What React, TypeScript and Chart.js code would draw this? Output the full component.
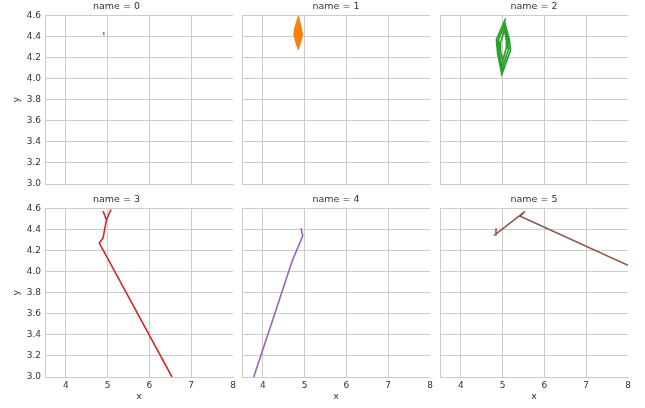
import React, { useEffect, useRef } from 'react';
import { Chart, registerables } from 'chart.js';

Chart.register(...registerables);

// Facet labels and colours
const facetNames = ['0', '1', '2', '3', '4', '5'];
const facetColors = ['#1f77b4', '#ff7f0e', '#2ca02c', '#d62728', '#9467bd', '#8c564b'];

// Shared axis ranges and tick values
const xRange = [3.5, 8];
const yRange = [3.0, 4.6];
const xTickValues = [4, 5, 6, 7, 8];
const yTickValues = [3.0, 3.2, 3.4, 3.6, 3.8, 4.0, 4.2, 4.4, 4.6];

// Trajectories, one per facet
const name0X = [4.9, 4.905, 4.9, 4.91];
const name0Y = [4.42, 4.44, 4.425, 4.435];

const name1X = [4.84, 4.9, 4.92, 4.86, 4.8, 4.77, 4.83, 4.89, 4.93, 4.88, 4.82, 4.76, 4.8, 4.85, 4.91, 4.89, 4.84, 4.78, 4.81, 4.86, 4.89, 4.85, 4.81, 4.84, 4.87, 4.83];
const name1Y = [4.55, 4.47, 4.4, 4.32, 4.38, 4.46, 4.54, 4.49, 4.42, 4.34, 4.33, 4.42, 4.5, 4.56, 4.46, 4.37, 4.31, 4.4, 4.48, 4.53, 4.44, 4.36, 4.42, 4.48, 4.42, 4.4];

const name2X = [5.07, 4.85, 4.88, 4.98, 5.19, 5.16, 5.06, 4.89, 4.91, 4.99, 5.15, 5.13, 5.05, 4.94, 4.95, 5.0, 5.1, 5.09, 5.05];
const name2Y = [4.57, 4.37, 4.24, 4.04, 4.27, 4.37, 4.52, 4.36, 4.25, 4.1, 4.29, 4.36, 4.47, 4.33, 4.26, 4.17, 4.31, 4.36, 4.45];

const name3X = [4.89, 4.97, 5.08, 4.97, 4.89, 4.8, 6.54];
const name3Y = [4.575, 4.49, 4.59, 4.49, 4.32, 4.27, 3.0];

const name4X = [3.78, 4.3, 4.7, 4.955, 4.91];
const name4Y = [3.0, 3.62, 4.1, 4.34, 4.41];

const name5X = [8.0, 5.42, 5.53, 4.82, 4.84];
const name5Y = [4.06, 4.525, 4.57, 4.35, 4.41];

const seriesX = [name0X, name1X, name2X, name3X, name4X, name5X];
const seriesY = [name0Y, name1Y, name2Y, name3Y, name4Y, name5Y];

const FONT = "'DejaVu Sans', sans-serif";
const TEXT = '#333333';
const GRID = '#cccccc';

// Facet grid geometry
const plotLefts = [45, 242, 440];
const plotTops = [16, 209];
const plotW = 188;
const plotH = 168;
const titleBox = 16;
const yAxisW = 45;
const xAxisH = 30;

function panelBox(i: number) {
  const col = i % 3;
  const row = Math.floor(i / 3);
  const leftPad = col === 0 ? 0 : 4;
  const yW = col === 0 ? yAxisW : 0;
  const xH = row === 1 ? xAxisH : 0;
  const bottomPad = row === 1 ? 0 : 2;
  const rightPad = 6;
  return {
    col,
    row,
    left: plotLefts[col] - yW - leftPad,
    top: plotTops[row] - titleBox,
    width: leftPad + yW + plotW + rightPad,
    height: titleBox + plotH + xH + bottomPad,
    leftPad,
    rightPad,
    bottomPad,
  };
}

function Facet({ index }: { index: number }) {
  const ref = useRef<HTMLCanvasElement | null>(null);
  const box = panelBox(index);

  useEffect(() => {
    if (!ref.current) return;
    const showX = box.row === 1;
    const showY = box.col === 0;
    const points = seriesX[index].map((x, k) => ({ x, y: seriesY[index][k] }));
    const chart = new Chart(ref.current, {
      type: 'scatter',
      data: {
        datasets: [
          {
            data: points,
            showLine: true,
            borderColor: facetColors[index],
            backgroundColor: facetColors[index],
            borderWidth: index === 1 ? 2.8 : index === 2 ? 1.7 : 1.6,
            pointRadius: 0,
            pointHoverRadius: 0,
            tension: 0,
            clip: 0,
          } as any,
        ],
      },
      options: {
        animation: false,
        responsive: false,
        devicePixelRatio: 1,
        events: [],
        layout: {
          padding: { left: box.leftPad, right: box.rightPad, top: 0, bottom: box.bottomPad },
        },
        plugins: {
          legend: { display: false },
          tooltip: { enabled: false },
          title: {
            display: true,
            text: 'name = ' + facetNames[index],
            color: TEXT,
            font: { family: FONT, size: 9.5, weight: 'normal' },
            padding: { top: 1, bottom: 3 },
          },
        },
        scales: {
          x: {
            type: 'linear',
            min: xRange[0],
            max: xRange[1],
            afterBuildTicks: (s: any) => {
              s.ticks = xTickValues.map((v) => ({ value: v }));
            },
            afterFit: (s: any) => {
              s.height = showX ? xAxisH : 0;
              s.paddingLeft = 0;
              s.paddingRight = 0;
            },
            grid: {
              drawTicks: false,
              lineWidth: 1,
              color: (c: any) => (c.tick && c.tick.value === xRange[1] ? 'rgba(0,0,0,0)' : GRID),
            },
            border: { display: true, color: GRID, width: 1 },
            ticks: {
              display: showX,
              padding: 3,
              color: TEXT,
              font: { family: FONT, size: 9 },
              callback: (v: any) => String(v),
            },
            title: {
              display: showX,
              text: 'x',
              color: TEXT,
              font: { family: FONT, size: 9.5 },
              padding: { top: 0, bottom: 5 },
            },
          },
          y: {
            type: 'linear',
            min: yRange[0],
            max: yRange[1],
            afterBuildTicks: (s: any) => {
              s.ticks = yTickValues.map((v) => ({ value: v }));
            },
            afterFit: (s: any) => {
              s.width = showY ? yAxisW : 0;
              s.paddingTop = 0;
              s.paddingBottom = 0;
            },
            grid: { drawTicks: false, lineWidth: 1, color: GRID },
            border: { display: true, color: GRID, width: 1 },
            ticks: {
              display: showY,
              padding: 4,
              color: TEXT,
              font: { family: FONT, size: 9 },
              callback: (v: any) => Number(v).toFixed(1),
            },
            title: {
              display: showY,
              text: 'y',
              color: TEXT,
              font: { family: FONT, size: 9.5 },
              padding: { top: 11, bottom: 0 },
            },
          },
        },
      } as any,
    });
    return () => chart.destroy();
  }, [index]);

  return (
    <canvas
      ref={ref}
      width={box.width}
      height={box.height}
      style={{
        position: 'absolute',
        left: box.left,
        top: box.top,
        width: box.width,
        height: box.height,
      }}
    />
  );
}

export default function App() {
  return (
    <div
      style={{
        position: 'fixed',
        left: 0,
        top: 0,
        width: 645,
        height: 408,
        background: '#ffffff',
        overflow: 'hidden',
      }}
    >
      {facetNames.map((_, i) => (
        <Facet key={i} index={i} />
      ))}
    </div>
  );
}
